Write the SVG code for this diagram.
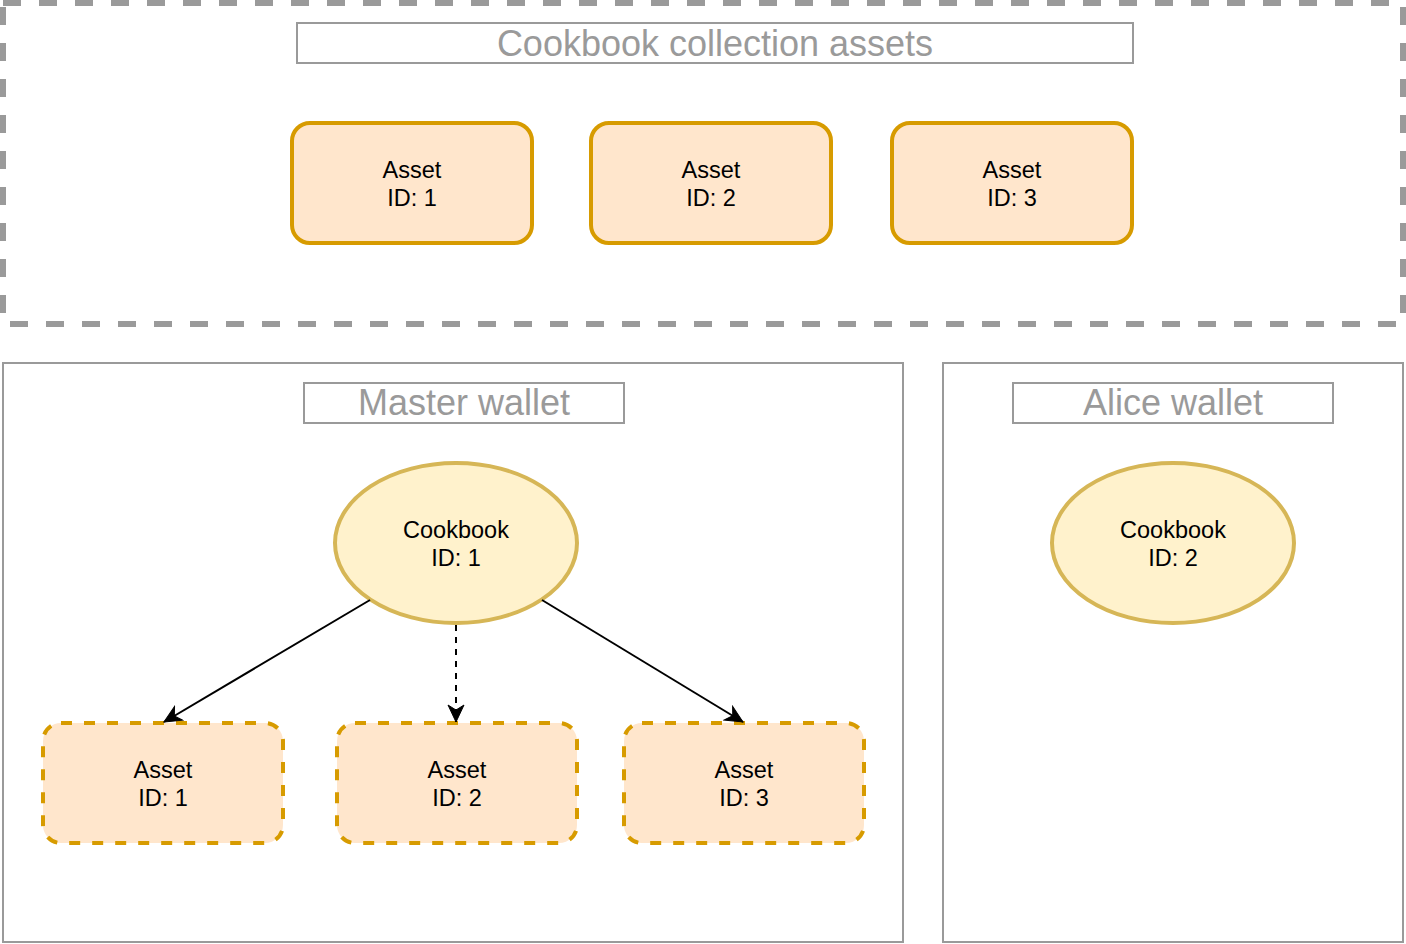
<svg xmlns="http://www.w3.org/2000/svg" width="1406" height="944" viewBox="0 0 1406 944">
<defs>
<style>
.frame{fill:none;stroke:#9a9a9a;stroke-width:2}
.outer{fill:none;stroke:#9a9a9a;stroke-width:6;stroke-dasharray:18 18}
.title{fill:#fff;stroke:#9a9a9a;stroke-width:2}
.ttext{font-family:"Liberation Sans",Arial,sans-serif;font-size:36px;fill:#9a9a9a;text-anchor:middle}
.asset{fill:#ffe6cc;stroke:#d79b00;stroke-width:4}
.dasset{fill:#ffe6cc;stroke:#d79b00;stroke-width:4;stroke-dasharray:11 12}
.cook{fill:#fff2cc;stroke:#d6b656;stroke-width:4}
.lbl{font-family:"Liberation Sans",Arial,sans-serif;font-size:23.5px;fill:#000;text-anchor:middle}
.edge{fill:none;stroke:#000;stroke-width:2}
.dashed{stroke-dasharray:6 6}
</style>
<marker id="arr" markerUnits="userSpaceOnUse" viewBox="-18 -9 19 18" refX="0" refY="0" markerWidth="19" markerHeight="18" orient="auto">
<path d="M0,0 L-17,-8 L-12,0 L-17,8 Z" fill="#000" stroke="#000" stroke-width="1"/>
</marker>
</defs>
<rect x="0" y="0" width="1406" height="944" fill="#fff"/>

<g id="collection">
<rect class="outer" x="3" y="3" width="1400" height="321"/>
<rect class="title" x="297" y="23" width="836" height="40"/>
<text class="ttext" x="715" y="56">Cookbook collection assets</text>
</g>

<g id="master-wallet">
<rect class="frame" x="3" y="363" width="900" height="579"/>
<rect class="title" x="304" y="383" width="320" height="40"/>
<text class="ttext" x="464" y="415">Master wallet</text>
</g>

<g id="alice-wallet">
<rect class="frame" x="943" y="363" width="460" height="579"/>
<rect class="title" x="1013" y="383" width="320" height="40"/>
<text class="ttext" x="1173" y="415">Alice wallet</text>
</g>

<g id="col-asset-1">
<rect class="asset" x="292" y="123" width="240" height="120" rx="18"/>
<text class="lbl" x="412" y="178">Asset</text>
<text class="lbl" x="412" y="206">ID: 1</text>
</g>
<g id="col-asset-2">
<rect class="asset" x="591" y="123" width="240" height="120" rx="18"/>
<text class="lbl" x="711" y="178">Asset</text>
<text class="lbl" x="711" y="206">ID: 2</text>
</g>
<g id="col-asset-3">
<rect class="asset" x="892" y="123" width="240" height="120" rx="18"/>
<text class="lbl" x="1012" y="178">Asset</text>
<text class="lbl" x="1012" y="206">ID: 3</text>
</g>

<g id="cookbook-1">
<ellipse class="cook" cx="456" cy="543" rx="121" ry="80"/>
<text class="lbl" x="456" y="538">Cookbook</text>
<text class="lbl" x="456" y="566">ID: 1</text>
</g>
<g id="cookbook-2">
<ellipse class="cook" cx="1173" cy="543" rx="121" ry="80"/>
<text class="lbl" x="1173" y="538">Cookbook</text>
<text class="lbl" x="1173" y="566">ID: 2</text>
</g>

<g id="wallet-asset-1">
<rect class="dasset" x="43" y="723" width="240" height="120" rx="18"/>
<text class="lbl" x="163" y="778">Asset</text>
<text class="lbl" x="163" y="806">ID: 1</text>
</g>
<g id="wallet-asset-2">
<rect class="dasset" x="337" y="723" width="240" height="120" rx="18"/>
<text class="lbl" x="457" y="778">Asset</text>
<text class="lbl" x="457" y="806">ID: 2</text>
</g>
<g id="wallet-asset-3">
<rect class="dasset" x="624" y="723" width="240" height="120" rx="18"/>
<text class="lbl" x="744" y="778">Asset</text>
<text class="lbl" x="744" y="806">ID: 3</text>
</g>

<g id="connectors">
<line class="edge" x1="370" y1="600" x2="164" y2="722" marker-end="url(#arr)"/>
<line class="edge dashed" x1="456" y1="625" x2="456" y2="722" marker-end="url(#arr)"/>
<line class="edge" x1="542" y1="600" x2="743" y2="722" marker-end="url(#arr)"/>
</g>
</svg>
